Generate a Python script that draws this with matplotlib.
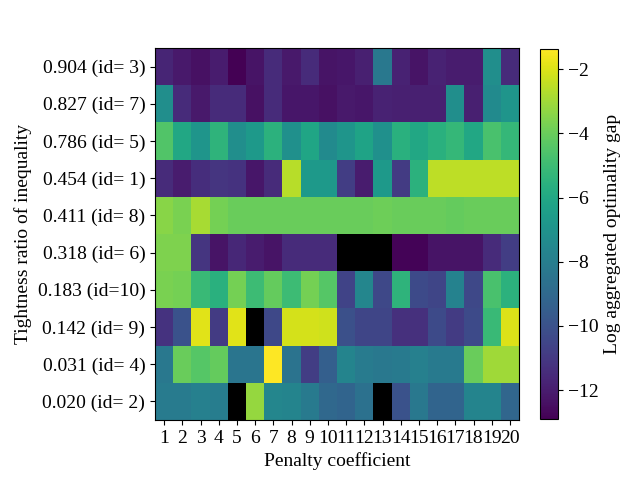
import numpy as np
import matplotlib
matplotlib.use("Agg")
import matplotlib.pyplot as plt

plt.rcParams['font.family'] = ['Liberation Serif', 'DejaVu Serif']
plt.rcParams['font.size'] = 14

# rows top to bottom as displayed
ratios = [0.904, 0.827, 0.786, 0.454, 0.411, 0.318, 0.183, 0.142, 0.031, 0.020]
ids = [3, 7, 5, 1, 8, 6, 10, 9, 4, 2]
penalties = list(range(1, 21))

nan = np.nan
gap = [
    [-11.7, -12.1, -12.4, -12.0, -12.9, -12.3, -11.5, -12.1, -11.5, -12.3,
     -12.2, -11.9, -8.3, -11.8, -12.3, -11.8, -12.0, -12.0, -7.2, -11.5],
    [-7.2, -11.5, -12.1, -11.5, -11.5, -12.4, -11.5, -12.2, -12.2, -12.4,
     -12.1, -12.2, -11.8, -11.9, -11.9, -11.9, -7.2, -11.9, -7.4, -6.9],
    [-4.5, -6.0, -6.9, -5.4, -7.2, -6.7, -5.5, -7.1, -6.1, -7.4,
     -6.9, -6.2, -7.1, -5.6, -6.0, -5.6, -5.2, -6.0, -4.7, -5.2],
    [-11.5, -12.0, -11.4, -11.1, -11.2, -12.2, -11.5, -2.6, -6.7, -6.7,
     -10.8, -12.0, -6.7, -10.9, -5.5, -2.5, -2.5, -2.5, -2.5, -2.5],
    [-3.4, -3.7, -2.9, -3.8, -4.0, -4.0, -4.0, -4.0, -4.0, -4.0,
     -4.0, -4.0, -3.9, -4.0, -4.0, -4.0, -4.1, -4.0, -4.0, -4.0],
    [-3.6, -3.6, -11.1, -12.3, -11.6, -12.0, -12.3, -11.5, -11.5, -11.5,
     nan, nan, nan, -12.8, -12.8, -12.3, -12.3, -12.3, -11.5, -10.8],
    [-3.7, -3.8, -5.1, -5.6, -3.8, -5.0, -4.1, -5.0, -3.8, -4.4,
     -10.6, -7.6, -10.4, -5.4, -10.3, -10.5, -7.8, -10.4, -4.7, -5.5],
    [-11.2, -10.0, -1.9, -10.9, -1.9, nan, -10.4, -2.1, -2.1, -2.2,
     -10.1, -10.5, -10.5, -11.3, -11.3, -10.3, -10.9, -10.3, -5.1, -2.0],
    [-8.3, -4.0, -4.4, -4.1, -8.4, -8.4, -1.37, -8.5, -10.8, -9.4,
     -7.7, -8.1, -8.3, -8.2, -7.9, -8.2, -8.2, -4.0, -3.0, -3.0],
    [-8.1, -8.1, -7.9, -8.0, nan, -3.2, -7.6, -7.7, -8.2, -9.0,
     -9.2, -8.6, nan, -10.0, -8.3, -9.2, -9.2, -7.7, -7.7, -9.1],
]
gap = np.array(gap)

fig = plt.figure(figsize=(6.4, 4.8), dpi=100)
ax = fig.add_axes([155/640, 1-420/480, 364/640, 372/480])
cmap = plt.get_cmap('viridis').copy()
cmap.set_bad('black')
im = ax.imshow(np.ma.masked_invalid(gap), cmap=cmap, aspect='auto',
               vmin=-12.9, vmax=-1.37, interpolation='nearest')

ax.set_xticks(range(len(penalties)))
ax.set_xticklabels([str(p) for p in penalties])
ax.set_yticks(range(len(ratios)))
ax.set_yticklabels(['%.3f (id=%2d)' % (r, i) for r, i in zip(ratios, ids)])
ax.set_xlabel('Penalty coefficient')
ax.set_ylabel('Tightness ratio of inequality')

cax = fig.add_axes([540/640, 1-419/480, 18/640, 370/480])
cb = fig.colorbar(im, cax=cax)
cb.set_label('Log aggregated optimality gap')

fig.savefig('out.png', dpi=100)
